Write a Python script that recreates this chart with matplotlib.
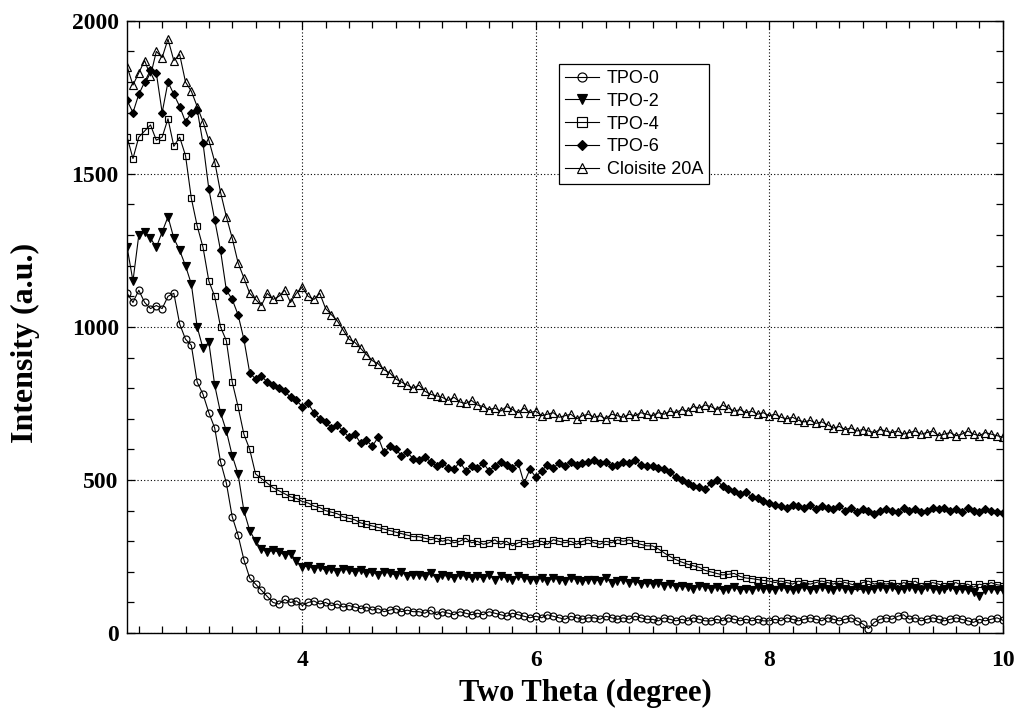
import numpy as np
import matplotlib
matplotlib.use("Agg")
from matplotlib import pyplot as plt
from matplotlib.ticker import MultipleLocator

# Two theta grid, 0.05 degree steps from 2.5 to 10 (151 points).
two_theta = np.round(np.linspace(2.5, 10.0, 151), 2)

# Intensities, ten values per 0.5 degree row.
tpo_0 = [
    1110, 1080, 1120, 1080, 1060, 1070, 1060, 1100, 1110, 1010,
    960, 940, 820, 780, 720, 670, 560, 490, 380, 320,
    240, 180, 160, 140, 120, 100, 95, 110, 100, 105,
    90, 100, 105, 95, 100, 90, 95, 85, 90, 85,
    80, 85, 75, 80, 70, 75, 80, 70, 75, 70,
    70, 65, 75, 60, 70, 65, 60, 70, 65, 60,
    65, 60, 70, 65, 60, 55, 65, 60, 55, 50,
    55, 50, 60, 55, 50, 45, 55, 50, 45, 50,
    50, 45, 55, 50, 45, 50, 45, 55, 50, 45,
    45, 40, 50, 45, 40, 45, 40, 50, 45, 40,
    40, 45, 40, 50, 45, 40, 45, 40, 45, 40,
    40, 45, 40, 50, 45, 40, 45, 50, 45, 40,
    50, 45, 40, 45, 50, 40, 30, 15, 35, 45,
    50, 45, 55, 60, 45, 50, 40, 45, 50, 45,
    40, 45, 50, 45, 40, 35, 45, 40, 45, 50,
    42,
]
tpo_2 = [
    1260, 1150, 1300, 1310, 1290, 1260, 1310, 1360, 1290, 1250,
    1200, 1140, 1000, 930, 950, 810, 720, 660, 580, 520,
    400, 335, 300, 275, 265, 270, 265, 255, 260, 235,
    215, 220, 210, 215, 205, 210, 200, 210, 205, 200,
    205, 195, 200, 190, 200, 195, 190, 200, 185, 190,
    190, 185, 195, 180, 190, 185, 180, 190, 185, 180,
    185, 180, 190, 175, 185, 180, 175, 185, 180, 175,
    175, 180, 170, 180, 175, 170, 180, 175, 170, 175,
    175, 170, 180, 165, 170, 175, 165, 170, 160, 165,
    160, 165, 155, 160, 150, 155, 150, 145, 155, 150,
    145, 150, 140, 145, 150, 140, 145, 140, 150, 145,
    145, 140, 150, 145, 140, 145, 150, 140, 145, 150,
    145, 140, 150, 145, 140, 150, 145, 140, 145, 150,
    145, 150, 140, 145, 150, 145, 140, 150, 145, 140,
    145, 150, 140, 145, 140, 135, 120, 140, 145, 140,
    140,
]
tpo_4 = [
    1620, 1550, 1620, 1640, 1660, 1610, 1620, 1680, 1590, 1620,
    1560, 1420, 1330, 1260, 1150, 1100, 1000, 955, 820, 740,
    650, 600, 520, 505, 490, 475, 465, 455, 445, 440,
    430, 425, 415, 410, 400, 395, 390, 380, 375, 370,
    360, 355, 350, 345, 340, 335, 330, 325, 320, 315,
    315, 310, 305, 310, 300, 305, 295, 300, 310, 295,
    300, 290, 295, 305, 290, 300, 285, 295, 300, 290,
    295, 300, 290, 305, 300, 295, 300, 290, 300, 305,
    295, 290, 300, 295, 305, 300, 305, 295, 290, 285,
    285, 275, 262, 250, 240, 232, 225, 220, 215, 205,
    200, 195, 190, 192, 195, 185, 180, 178, 175, 172,
    170, 165, 170, 165, 160, 170, 165, 160, 165, 170,
    165, 160, 170, 165, 160, 155, 165, 170, 160, 165,
    160, 165, 155, 165, 160, 170, 155, 160, 165, 160,
    155, 160, 165, 155, 160, 150, 160, 155, 165, 158,
    155,
]
tpo_6 = [
    1740, 1700, 1760, 1800, 1840, 1830, 1700, 1800, 1760, 1720,
    1670, 1700, 1710, 1600, 1450, 1350, 1250, 1120, 1090, 1040,
    960, 850, 830, 840, 820, 810, 800, 790, 770, 760,
    740, 750, 720, 700, 690, 670, 680, 660, 640, 650,
    620, 630, 610, 640, 590, 610, 600, 580, 590, 570,
    565, 575, 560, 545, 555, 540, 535, 560, 530, 545,
    540, 555, 530, 545, 560, 550, 540, 555, 490, 535,
    510, 530, 550, 540, 555, 545, 560, 550, 555, 560,
    565, 555, 560, 545, 550, 560, 555, 565, 550, 545,
    545, 540, 535, 525, 510, 500, 490, 480, 477, 470,
    490, 500, 480, 470, 465, 455, 460, 445, 440, 430,
    425, 420, 415, 410, 420, 415, 410, 420, 405, 415,
    410, 405, 415, 400, 410, 395, 405, 400, 390, 400,
    405, 400, 395, 410, 400, 405, 395, 400, 410, 405,
    408, 400, 405, 395, 410, 400, 395, 405, 400, 395,
    392,
]
cloisite_20a = [
    1850, 1790, 1830, 1870, 1820, 1900, 1880, 1940, 1870, 1890,
    1800, 1770, 1720, 1670, 1610, 1540, 1440, 1360, 1290, 1210,
    1160, 1110, 1090, 1070, 1110, 1090, 1100, 1120, 1080, 1110,
    1130, 1100, 1090, 1110, 1060, 1040, 1020, 990, 960, 950,
    930, 910, 890, 880, 860, 850, 830, 820, 810, 800,
    810, 790, 780, 775, 770, 760, 770, 755, 750, 760,
    745, 740, 730, 735, 725, 740, 730, 720, 735, 720,
    725, 710, 715, 720, 705, 710, 715, 700, 710, 715,
    705, 710, 700, 715, 710, 705, 715, 710, 720, 715,
    710, 720, 715, 725, 720, 730, 725, 740, 735, 745,
    740, 730, 745, 735, 725, 730, 720, 725, 715, 720,
    710, 715, 705, 700, 705, 695, 690, 695, 685, 690,
    680, 670, 675, 665, 670, 660, 665, 660, 655, 665,
    660, 655, 660, 650, 655, 660, 650, 655, 660, 645,
    650, 655, 645, 650, 660, 650, 645, 655, 650, 645,
    640,
]

labels = ["TPO-0", "TPO-2", "TPO-4", "TPO-6", "Cloisite 20A"]
series = [tpo_0, tpo_2, tpo_4, tpo_6, cloisite_20a]
markers = ["o", "v", "s", "D", "^"]
faces = ["none", "black", "none", "black", "none"]
sizes = [5, 5.5, 5, 4, 5.5]

fig = plt.figure(figsize=(10.17, 7.17), dpi=100)
ax = fig.add_axes([0.125, 0.117, 0.861, 0.854])

for y, lab, m, fc, ms in zip(series, labels, markers, faces, sizes):
    ax.plot(two_theta, y, color="black", lw=0.8, marker=m, ms=ms,
            mfc=fc, mec="black", mew=0.85, label=lab)

ax.set_xlim(2.5, 10)
ax.set_ylim(0, 2000)
ax.xaxis.set_major_locator(MultipleLocator(2))
ax.xaxis.set_minor_locator(MultipleLocator(0.2))
ax.yaxis.set_major_locator(MultipleLocator(500))
ax.yaxis.set_minor_locator(MultipleLocator(100))
ax.tick_params(which="both", direction="in", top=True, right=True,
               colors="black", width=0.9)
ax.tick_params(which="major", length=6)
ax.tick_params(which="minor", length=5)
ax.tick_params(axis="x", which="major", pad=12)
ax.tick_params(axis="y", which="major", pad=6)
ax.grid(True, which="major", color="black", ls=(0, (1, 2)), lw=0.8)
for s in ax.spines.values():
    s.set_linewidth(1.0)

tick_font = {"family": "Liberation Serif", "weight": "bold", "size": 17}
for t in ax.get_xticklabels() + ax.get_yticklabels():
    t.set_fontproperties(matplotlib.font_manager.FontProperties(**tick_font))

ax.set_xlabel("Two Theta (degree)", family="Liberation Serif",
              weight="bold", size=22)
ax.set_ylabel("Intensity (a.u.)", family="Liberation Serif",
              weight="bold", size=23)
ax.xaxis.set_label_coords(0.523, -0.074)
ax.yaxis.set_label_coords(-0.100, 0.474)

leg = ax.legend(loc="upper left", bbox_to_anchor=(0.493, 0.93),
                prop={"family": "Liberation Sans", "size": 13},
                frameon=True, fancybox=False, edgecolor="black",
                framealpha=1, handlelength=1.9, labelspacing=0.32,
                handletextpad=0.4, borderpad=0.35, markerscale=1.3,
                borderaxespad=0)
leg.get_frame().set_linewidth(0.9)

fig.savefig("out.png", dpi=100)
